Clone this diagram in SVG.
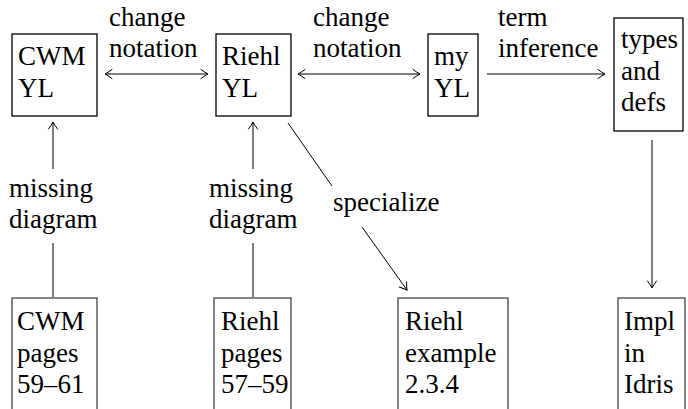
<svg xmlns="http://www.w3.org/2000/svg" width="688" height="409" viewBox="0 0 688 409" font-family="Liberation Serif, DejaVu Serif, serif" font-size="27">
<defs>
<marker id="arr" viewBox="-8 -6 10 12" refX="0" refY="0" markerWidth="10" markerHeight="12" markerUnits="userSpaceOnUse" orient="auto-start-reverse">
<path d="M -7 -4.5 Q -2.5 -1.2 0 0 Q -2.5 1.2 -7 4.5" fill="none" stroke="#000" stroke-width="1" stroke-linecap="round"/>
</marker>
</defs>
<style>
.box{fill:#fff;stroke:#000;stroke-width:1.3}
.bbox{fill:#fff;stroke:#222;stroke-width:1.1}
.edge{fill:none;stroke:#000;stroke-width:1}
</style>
<rect width="688" height="409" fill="#fff"/>
<g id="connectors">
<line class="edge" x1="105" y1="74" x2="208" y2="74" marker-start="url(#arr)" marker-end="url(#arr)"/>
<text x="109" y="26">change</text>
<text x="109" y="57">notation</text>
<line class="edge" x1="298" y1="74" x2="420" y2="74" marker-start="url(#arr)" marker-end="url(#arr)"/>
<text x="313" y="26">change</text>
<text x="313" y="57">notation</text>
<line class="edge" x1="487" y1="74" x2="605" y2="74" marker-end="url(#arr)"/>
<text x="498" y="26">term</text>
<text x="498" y="57">inference</text>
<line class="edge" x1="53" y1="169" x2="53" y2="122" marker-end="url(#arr)"/>
<line class="edge" x1="53" y1="243" x2="53" y2="297"/>
<text x="9" y="197">missing</text>
<text x="9" y="228">diagram</text>
<line class="edge" x1="253" y1="169" x2="253" y2="122" marker-end="url(#arr)"/>
<line class="edge" x1="253" y1="243" x2="253" y2="297"/>
<text x="209" y="197">missing</text>
<text x="209" y="228">diagram</text>
<line class="edge" x1="288" y1="123" x2="332" y2="186"/>
<line class="edge" x1="362" y1="227" x2="407" y2="290" marker-end="url(#arr)"/>
<text x="333" y="211">specialize</text>
<line class="edge" x1="652" y1="140" x2="652" y2="288" marker-end="url(#arr)"/>
</g>
<g id="cwm-yl">
<rect class="box" x="12" y="34" width="85" height="82"/>
<text x="18" y="65">CWM</text>
<text x="18" y="97">YL</text>
</g>
<g id="riehl-yl">
<rect class="box" x="216" y="34" width="75" height="82"/>
<text x="222" y="65">Riehl</text>
<text x="222" y="97">YL</text>
</g>
<g id="my-yl">
<rect class="box" x="428" y="34" width="50" height="82"/>
<text x="434" y="65">my</text>
<text x="434" y="97">YL</text>
</g>
<g id="types-defs">
<rect class="box" x="614" y="18" width="69" height="113"/>
<text x="621" y="48">types</text>
<text x="621" y="80">and</text>
<text x="621" y="111">defs</text>
</g>
<g id="cwm-pages">
<rect class="bbox" x="12" y="298" width="85" height="130"/>
<text x="17" y="330">CWM</text>
<text x="17" y="362">pages</text>
<text x="17" y="393">59–61</text>
</g>
<g id="riehl-pages">
<rect class="bbox" x="214" y="298" width="77" height="130"/>
<text x="221" y="330">Riehl</text>
<text x="221" y="362">pages</text>
<text x="221" y="393">57–59</text>
</g>
<g id="riehl-example">
<rect class="bbox" x="398" y="298" width="110" height="130"/>
<text x="405" y="330">Riehl</text>
<text x="405" y="362">example</text>
<text x="405" y="393">2.3.4</text>
</g>
<g id="impl-idris">
<rect class="bbox" x="618" y="298" width="67" height="130"/>
<text x="624" y="330">Impl</text>
<text x="624" y="362">in</text>
<text x="624" y="393">Idris</text>
</g>
</svg>
